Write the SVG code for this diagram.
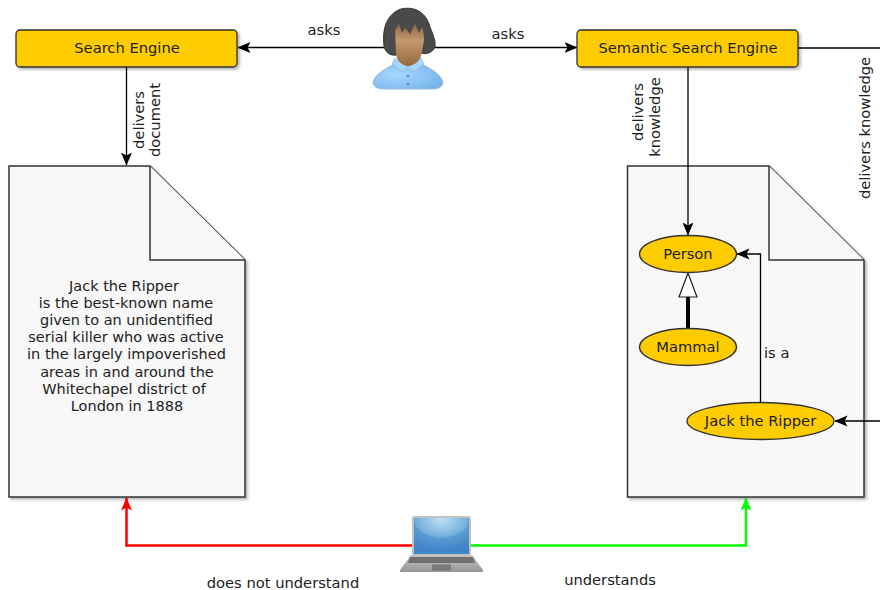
<svg xmlns="http://www.w3.org/2000/svg" width="880" height="590" viewBox="0 0 880 590">
<style>
text{font-family:"DejaVu Sans",sans-serif;font-size:14.7px;fill:#222}
.m{text-anchor:middle}
.b{font-size:14.5px}
.box{fill:#ffcc00;stroke:#333;stroke-width:1.3}
.doc{fill:#f8f8f8;stroke:#333;stroke-width:1.5}
.c{fill:none;stroke:#000;stroke-width:1.3}
</style>
<defs>
<filter id="sh" x="-10%" y="-10%" width="120%" height="120%"><feDropShadow dx="2" dy="2" stdDeviation="1.500" flood-color="#000" flood-opacity=".3"/></filter>
<marker id="a" viewBox="0 0 13 12" refX="12.500" refY="6" markerWidth="13" markerHeight="12" markerUnits="userSpaceOnUse" orient="auto"><path d="M0 0.500L13 6L0 11.500L3 6Z" fill="#000"/></marker>
<marker id="r" viewBox="0 0 13 12" refX="12.500" refY="6" markerWidth="13" markerHeight="12" markerUnits="userSpaceOnUse" orient="auto"><path d="M0 0.500L13 6L0 11.500L3 6Z" fill="#f00"/></marker>
<marker id="g" viewBox="0 0 13 12" refX="12.500" refY="6" markerWidth="13" markerHeight="12" markerUnits="userSpaceOnUse" orient="auto"><path d="M0 0.500L13 6L0 11.500L3 6Z" fill="#0f0"/></marker>
<linearGradient id="sk" x1="0" y1="0" x2="0" y2="1"><stop offset="0" stop-color="#8a6543"/><stop offset=".4" stop-color="#c49a6e"/><stop offset="1" stop-color="#96693f"/></linearGradient>
<radialGradient id="sh1" cx=".35" cy=".45" r=".75"><stop offset="0" stop-color="#a8d8ff"/><stop offset="1" stop-color="#74b2ea"/></radialGradient>
<radialGradient id="scr" cx=".5" cy=".05" r=".85"><stop offset="0" stop-color="#bcdff4"/><stop offset=".55" stop-color="#74b0dc"/><stop offset=".6" stop-color="#5b9ad2"/><stop offset="1" stop-color="#3f86c8"/></radialGradient>
<linearGradient id="base" x1="0" y1="0" x2="0" y2="1"><stop offset="0" stop-color="#c4c4c4"/><stop offset="1" stop-color="#969696"/></linearGradient>
</defs>

<g id="doc-left">
<path class="doc" filter="url(#sh)" d="M9 166H150L245 260V497H9Z"/>
<path class="doc" d="M150 166V260H245"/>
<text class="m b" x="124" y="291">Jack the Ripper</text>
<text class="m b" x="126" y="308">is the best-known name</text>
<text class="m b" x="126.500" y="325">given to an unidentified</text>
<text class="m b" x="126" y="342">serial killer who was active</text>
<text class="m b" x="126.500" y="359">in the largely impoverished</text>
<text class="m b" x="127" y="377">areas in and around the</text>
<text class="m b" x="124" y="394">Whitechapel district of</text>
<text class="m b" x="127" y="411">London in 1888</text>
</g>

<g id="doc-right">
<path class="doc" filter="url(#sh)" d="M627.500 166H769L864 260V497H627.500Z"/>
<path class="doc" d="M769 166V260H864"/>
</g>

<g id="connectors">
<path class="c" d="M386 47.500H238" marker-end="url(#a)"/>
<path class="c" d="M432 47.500H577" marker-end="url(#a)"/>
<path class="c" d="M126.500 67V165" marker-end="url(#a)"/>
<path class="c" d="M688 67V235" marker-end="url(#a)"/>
<path class="c" d="M798 48H880"/>
<path class="c" d="M880 421H835" marker-end="url(#a)"/>
<path class="c" d="M760.500 402V254H737" marker-end="url(#a)"/>
<path d="M688 328V297" fill="none" stroke="#000" stroke-width="4"/>
<path d="M688 273L697 297H679Z" fill="#fff" stroke="#222" stroke-width="1.2"/>
<path d="M412 545.500H126.500V498" fill="none" stroke="#f00" stroke-width="2.500" marker-end="url(#r)"/>
<path d="M470 545.500H746V498" fill="none" stroke="#0f0" stroke-width="2.500" marker-end="url(#g)"/>
</g>

<g id="search-engine">
<rect class="box" filter="url(#sh)" x="16" y="30" width="221" height="37" rx="4"/>
<text class="m" x="127" y="53">Search Engine</text>
</g>
<g id="semantic-search-engine">
<rect class="box" filter="url(#sh)" x="577" y="30" width="221" height="37" rx="4"/>
<text class="m" x="688" y="53">Semantic Search Engine</text>
</g>

<g id="person">
<ellipse class="box" cx="688" cy="254" rx="48.500" ry="18.500"/>
<text class="m" x="688" y="259">Person</text>
</g>
<g id="mammal">
<ellipse class="box" cx="688" cy="347" rx="48.500" ry="18.500"/>
<text class="m" x="688" y="352">Mammal</text>
</g>
<g id="jack-the-ripper">
<ellipse class="box" cx="760.500" cy="421" rx="73.500" ry="18.500"/>
<text class="m" x="760.500" y="426">Jack the Ripper</text>
</g>

<g id="user">
<path d="M373 82C375 74 385 69 396 63L420 63C431 69 441 74 443 82C443 87 438 89 432 89H384C378 89 373 87 373 82Z" fill="url(#sh1)" stroke="#9cc0de" stroke-width="1"/>
<path d="M384 46C382 28 387 14 401 9C414 6 425 12 429 24C432 33 436 40 435 46C434 52 427 55 420 53L396 55C390 56 385 52 384 46Z" fill="#4a4a4a" stroke="#333" stroke-width="1"/>
<path d="M395 58L408 67L421 58L424 64L414 72L408 68L402 72L392 64Z" fill="#a8d6fa" stroke="#86b6dc" stroke-width=".7"/>
<path d="M396 54C397 61 401 65 408 66C416 65 421 60 422 52L424 40C424 34 423 29 422 27L419 33L415 24L410 34L405 28L402 33L399 24L395 30Z" fill="url(#sk)"/>
<circle cx="408" cy="76" r="1.500" fill="#5d94c6"/><circle cx="408" cy="84" r="1.500" fill="#5d94c6"/>
</g>

<g id="laptop">
<rect x="412" y="516" width="59" height="40" rx="2" fill="#c2c2c2"/>
<rect x="414" y="518" width="55" height="36" fill="url(#scr)"/>
<path d="M411 555H472L483 570V572H400V570Z" fill="url(#base)"/>
<path d="M410 557H473L475 563H408Z" fill="#707070"/>
<rect x="432" y="564.500" width="19" height="6" fill="#7a7a7a"/>
</g>

<g id="labels">
<text class="m" x="324" y="35">asks</text>
<text class="m" x="508" y="39">asks</text>
<text class="m" x="283" y="588">does not understand</text>
<text class="m" x="610" y="585">understands</text>
<text x="764" y="358">is a</text>
<text class="m" transform="translate(144 120) rotate(-90)">delivers</text>
<text class="m" transform="translate(160 120) rotate(-90)">document</text>
<text class="m" transform="translate(643 112) rotate(-90)">delivers</text>
<text class="m" transform="translate(660 117) rotate(-90)">knowledge</text>
<text class="m" transform="translate(870 128) rotate(-90)">delivers knowledge</text>
</g>
</svg>
